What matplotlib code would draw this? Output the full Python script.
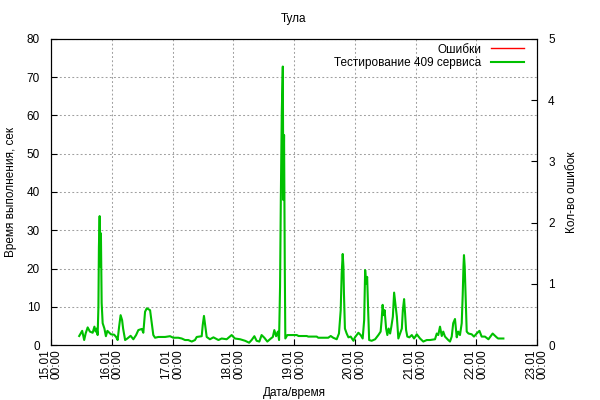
import datetime as dt

import matplotlib
matplotlib.use("Agg")
import matplotlib.pyplot as plt
import matplotlib.dates as mdates

# hours since 15.01 00:00 and response time, sec
hours = [
    11.14, 12.32, 13.11, 13.70, 14.49, 15.38, 16.46, 17.15, 17.65, 18.04, 18.43, 18.73,
    18.93, 19.22, 19.52, 19.72, 20.01, 20.41, 21.10, 21.69, 22.28, 23.07, 23.66, 24.94,
    25.73, 26.32, 26.91, 27.50, 28.09, 28.49, 29.28, 30.16, 31.45, 32.53, 33.62, 34.50,
    35.88, 36.47, 37.16, 37.85, 39.14, 39.83, 40.42, 41.11, 42.39, 45.05, 47.02, 48.30,
    50.27, 51.65, 52.94, 54.22, 55.60, 56.88, 57.57, 59.54, 59.94, 60.43, 60.92, 61.51,
    62.79, 64.17, 66.15, 67.43, 69.40, 71.37, 72.65, 74.72, 76.69, 78.27, 79.26, 80.34,
    81.23, 82.31, 83.20, 84.28, 85.47, 86.85, 87.64, 88.23, 88.92, 89.61, 90.10, 90.49,
    90.79, 91.18, 91.58, 91.78, 92.07, 92.37, 92.57, 93.36, 97.10, 97.79, 101.04, 101.63,
    104.98, 105.58, 109.52, 110.51, 111.49, 112.87, 113.76, 114.45, 114.84, 115.24, 115.53,
    115.73, 116.12, 116.81, 117.50, 118.39, 119.48, 120.07, 121.45, 122.34, 123.13, 123.72,
    124.11, 124.51, 124.90, 125.29, 125.69, 126.67, 128.05, 129.33, 130.22, 130.62, 131.01,
    131.40, 131.80, 132.39, 132.88, 133.38, 133.97, 134.46, 135.05, 135.55, 136.04, 136.63,
    137.22, 137.91, 138.60, 139.00, 139.49, 139.88, 140.28, 140.77, 141.56, 142.54, 143.43,
    144.51, 145.80, 147.08, 148.46, 149.74, 151.71, 152.40, 152.99, 153.68, 154.37, 154.96,
    155.65, 156.94, 157.63, 158.31, 158.90, 159.60, 160.29, 160.88, 161.57, 162.26, 162.65,
    162.95, 163.15, 163.44, 163.84, 164.23, 164.92, 166.20, 167.09, 168.17, 169.26, 170.14,
    171.43, 172.81, 174.48, 176.06, 176.65, 178.72,
]
resp_time = [
    2.35, 3.7, 1.3, 3.05, 4.6, 3.5, 3.2, 4.8, 3.5, 4.3, 2.6, 10.0,
    25.7, 33.7, 20.5, 29.2, 11.0, 5.7, 4.3, 2.3, 3.7, 3.2, 2.8, 2.7,
    2.1, 1.3, 4.8, 7.8, 6.5, 4.3, 1.3, 1.7, 2.4, 1.5, 2.6, 3.9,
    4.2, 3.2, 8.7, 9.6, 9.1, 5.7, 2.6, 1.9, 2.1, 2.1, 2.3, 1.9,
    1.9, 1.7, 1.3, 1.3, 0.9, 1.3, 2.1, 2.3, 5.2, 7.6, 5.2, 2.1,
    1.5, 2.0, 1.3, 1.7, 1.5, 2.6, 1.7, 1.5, 1.1, 0.6, 1.3, 2.3,
    1.1, 0.9, 2.6, 1.9, 0.9, 1.7, 2.1, 3.9, 2.3, 3.5, 1.3, 15.2,
    37.9, 61.0, 72.8, 37.9, 54.9, 19.6, 1.7, 2.6, 2.6, 2.35, 2.35, 2.2,
    2.2, 1.9, 1.9, 2.35, 1.9, 1.5, 3.0, 9.1, 18.7, 23.8, 20.5,
    13.5, 4.3, 3.0, 2.0, 2.2, 1.1, 2.0, 3.2, 2.6, 1.7, 6.5,
    19.6, 16.1, 17.8, 9.1, 1.3, 1.1, 1.5, 2.6, 3.5, 6.5, 10.5,
    7.8, 9.1, 4.3, 2.6, 4.3, 3.0, 4.8, 7.4, 13.7, 10.8, 7.4,
    1.7, 3.0, 4.3, 9.1, 12.0, 8.3, 3.9, 2.2, 2.0, 2.6, 1.7,
    2.8, 1.7, 0.9, 1.3, 1.3, 1.5, 3.0, 2.6, 4.8, 2.35, 3.5,
    2.2, 1.3, 0.9, 2.2, 5.7, 6.8, 2.0, 3.5, 2.6, 5.7, 13.1,
    20.5, 23.5, 20.5, 12.2, 3.5, 3.0, 2.8, 2.2, 3.0, 3.7, 2.2,
    2.2, 1.5, 3.0, 2.0, 1.7, 1.7,
]
errors_x = []
errors_y = []

start = dt.datetime(2015, 1, 15)
times = [start + dt.timedelta(hours=h) for h in hours]

plt.rcParams["font.family"] = ["Liberation Sans", "DejaVu Sans"]
plt.rcParams["font.size"] = 8.5

fig = plt.figure(figsize=(6, 4), dpi=100)
ax = fig.add_axes([51 / 600, 55 / 400, 486 / 600, 306 / 400])
ax2 = ax.twinx()

ax.grid(True, color="#a0a0a0", linestyle=(0, (1.8, 2.2)), linewidth=0.75)
ax.set_axisbelow(True)

err_line, = ax2.plot(errors_x, errors_y, color="#ff0000", linewidth=1.0, label="Ошибки")
resp_line, = ax.plot(times, resp_time, color="#00c000", linewidth=1.5,
                     label="Тестирование 409 сервиса")

ax.set_xlim(start, start + dt.timedelta(days=8))
ax.set_ylim(0, 80)
ax.set_yticks(range(0, 81, 10))
ax2.set_ylim(0, 5)
ax2.set_yticks(range(0, 6))

ax.xaxis.set_major_locator(mdates.DayLocator())
ax.xaxis.set_major_formatter(mdates.DateFormatter("%d.%m\n%H:%M"))
for lbl in ax.get_xticklabels():
    lbl.set_rotation(90)
    lbl.set_ha("center")
    lbl.set_va("top")
    lbl.set_linespacing(1.0)

ax.tick_params(axis="x", direction="in", length=4, width=0.8, pad=3)
ax.tick_params(axis="y", direction="in", length=4, width=0.8, pad=8, right=False)
ax2.tick_params(direction="in", length=4, width=0.8, pad=8)

for a in (ax, ax2):
    for s in a.spines.values():
        s.set_linewidth(0.8)

ax.set_title("Тула", fontsize=8.5, pad=12)
ax.set_xlabel("Дата/время", labelpad=6)
ax.set_ylabel("Время выполнения, сек", labelpad=7)
ax2.set_ylabel("Кол-во ошибок", labelpad=8)

ax.legend(handles=[err_line, resp_line], loc="upper right", frameon=False,
          markerfirst=False, handlelength=2.8, handletextpad=0.8,
          labelspacing=0.15, borderpad=0, borderaxespad=0,
          bbox_to_anchor=(0.9733, 0.985))

fig.savefig("out.png", dpi=100)
